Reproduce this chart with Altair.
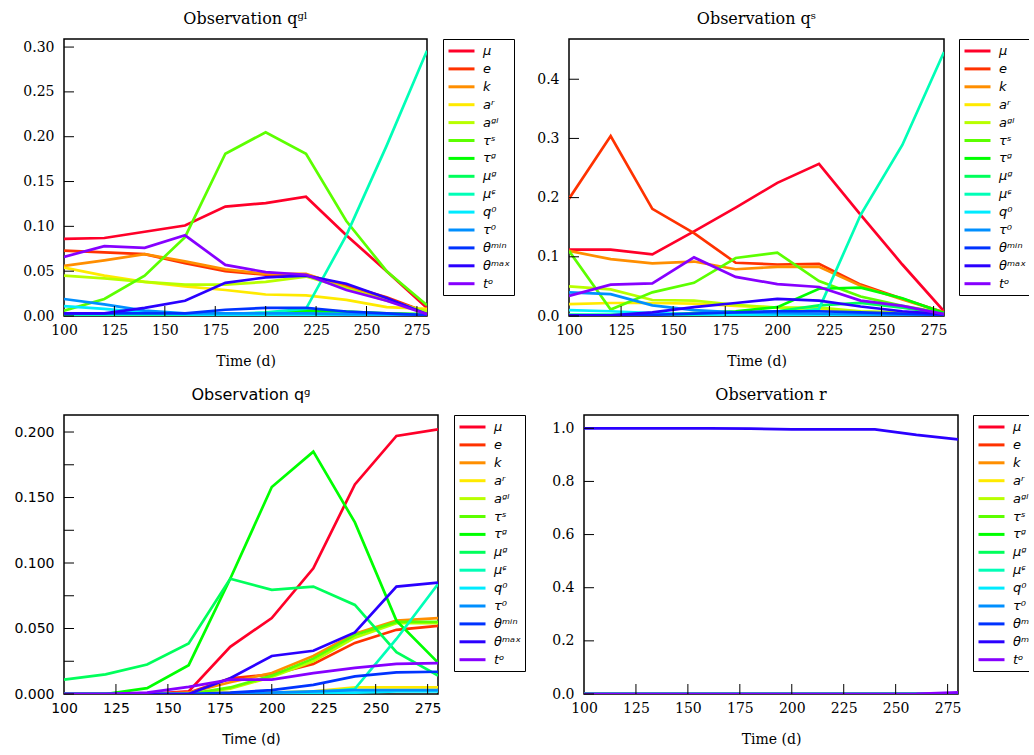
import altair as alt
import pandas as pd

times = [100, 120, 140, 160, 180, 200, 220, 240, 260, 280]
series = ["μ", "e", "k", "aʳ", "aᵍˡ", "τˢ", "τᵍ", "μᵍ", "μᶝ", "q⁰", "τ⁰", "θᵐⁱⁿ", "θᵐᵃˣ", "tᵒ"]
colors = ["#ff0029", "#ff3200", "#ff8e00", "#ffea00", "#b8ff00", "#5cff00", "#00ff00",
          "#00ff5b", "#00ffb7", "#00ebff", "#008fff", "#0033ff", "#2a00ff", "#8600ff"]
x_ticks = [100, 125, 150, 175, 200, 225, 250, 275]

# Observation q^gl
qgl_mu    = [0.086, 0.087, 0.094, 0.101, 0.122, 0.126, 0.133, 0.090, 0.050, 0.009]
qgl_e     = [0.073, 0.071, 0.069, 0.059, 0.050, 0.046, 0.046, 0.034, 0.021, 0.004]
qgl_k     = [0.056, 0.062, 0.069, 0.061, 0.052, 0.047, 0.047, 0.032, 0.019, 0.004]
qgl_ar    = [0.054, 0.045, 0.038, 0.033, 0.029, 0.024, 0.023, 0.018, 0.010, 0.008]
qgl_agl   = [0.045, 0.042, 0.038, 0.035, 0.035, 0.038, 0.044, 0.031, 0.017, 0.005]
qgl_taus  = [0.006, 0.019, 0.045, 0.088, 0.181, 0.205, 0.181, 0.106, 0.050, 0.012]
qgl_taug  = [0.001, 0.001, 0.001, 0.002, 0.002, 0.003, 0.006, 0.005, 0.003, 0.002]
qgl_mug   = [0.002, 0.002, 0.002, 0.002, 0.002, 0.002, 0.003, 0.003, 0.002, 0.001]
qgl_mus   = [0.001, 0.001, 0.001, 0.001, 0.002, 0.004, 0.008, 0.090, 0.190, 0.296]
qgl_q0    = [0.011, 0.008, 0.004, 0.002, 0.001, 0.001, 0.001, 0.001, 0.001, 0.001]
qgl_tau0  = [0.019, 0.013, 0.006, 0.003, 0.003, 0.003, 0.003, 0.002, 0.002, 0.001]
qgl_thmin = [0.003, 0.003, 0.003, 0.003, 0.007, 0.009, 0.009, 0.005, 0.003, 0.001]
qgl_thmax = [0.003, 0.003, 0.009, 0.017, 0.037, 0.043, 0.045, 0.036, 0.020, 0.002]
qgl_to    = [0.066, 0.078, 0.076, 0.090, 0.057, 0.049, 0.046, 0.029, 0.017, 0.002]

# Observation q^s
qs_mu    = [0.112, 0.112, 0.104, 0.143, 0.183, 0.225, 0.257, 0.171, 0.087, 0.008]
qs_e     = [0.198, 0.304, 0.181, 0.140, 0.090, 0.087, 0.088, 0.053, 0.029, 0.006]
qs_k     = [0.110, 0.096, 0.089, 0.092, 0.079, 0.083, 0.083, 0.051, 0.028, 0.006]
qs_ar    = [0.020, 0.022, 0.022, 0.021, 0.017, 0.014, 0.011, 0.007, 0.005, 0.003]
qs_agl   = [0.050, 0.045, 0.027, 0.026, 0.019, 0.014, 0.014, 0.008, 0.006, 0.003]
qs_taus  = [0.110, 0.011, 0.040, 0.056, 0.098, 0.107, 0.059, 0.033, 0.017, 0.005]
qs_taug  = [0.001, 0.001, 0.002, 0.005, 0.008, 0.015, 0.046, 0.048, 0.030, 0.005]
qs_mug   = [0.002, 0.002, 0.002, 0.003, 0.005, 0.008, 0.018, 0.022, 0.014, 0.004]
qs_mus   = [0.002, 0.002, 0.002, 0.002, 0.002, 0.003, 0.012, 0.171, 0.289, 0.446]
qs_q0    = [0.010, 0.008, 0.005, 0.003, 0.002, 0.002, 0.002, 0.002, 0.001, 0.001]
qs_tau0  = [0.040, 0.037, 0.018, 0.010, 0.006, 0.005, 0.004, 0.003, 0.002, 0.002]
qs_thmin = [0.001, 0.001, 0.002, 0.004, 0.006, 0.008, 0.008, 0.006, 0.004, 0.002]
qs_thmax = [0.001, 0.001, 0.006, 0.015, 0.022, 0.029, 0.026, 0.016, 0.008, 0.003]
qs_to    = [0.034, 0.053, 0.055, 0.099, 0.066, 0.054, 0.049, 0.026, 0.017, 0.003]

# Observation q^g
qg_mu    = [0.0, 0.0, 0.0, 0.002, 0.036, 0.058, 0.096, 0.160, 0.197, 0.202]
qg_e     = [0.0, 0.0, 0.0, 0.001, 0.012, 0.015, 0.023, 0.039, 0.049, 0.052]
qg_k     = [0.0, 0.0, 0.0, 0.001, 0.009, 0.016, 0.029, 0.046, 0.056, 0.058]
qg_ar    = [0.0, 0.0, 0.0, 0.0, 0.001, 0.001, 0.002, 0.005, 0.005, 0.005]
qg_agl   = [0.0, 0.0, 0.0, 0.0, 0.004, 0.013, 0.025, 0.043, 0.054, 0.054]
qg_taus  = [0.0, 0.0, 0.0, 0.0, 0.005, 0.014, 0.027, 0.045, 0.055, 0.055]
qg_taug  = [0.0, 0.0, 0.0045, 0.022, 0.088, 0.158, 0.185, 0.131, 0.056, 0.024]
qg_mug   = [0.011, 0.015, 0.0225, 0.0385, 0.088, 0.0795, 0.082, 0.068, 0.032, 0.014]
qg_mus   = [0.0, 0.0, 0.0, 0.0, 0.0, 0.0, 0.001, 0.004, 0.042, 0.084]
qg_q0    = [0.0, 0.0, 0.0, 0.0, 0.0, 0.0, 0.001, 0.001, 0.002, 0.002]
qg_tau0  = [0.0, 0.0, 0.0, 0.0, 0.0, 0.001, 0.002, 0.003, 0.003, 0.003]
qg_thmin = [0.0, 0.0, 0.0, 0.0, 0.001, 0.003, 0.007, 0.0135, 0.0165, 0.017]
qg_thmax = [0.0, 0.0, 0.0, 0.0, 0.012, 0.029, 0.033, 0.047, 0.082, 0.085]
qg_to    = [0.0, 0.0, 0.001, 0.0055, 0.011, 0.011, 0.016, 0.020, 0.023, 0.0235]

# Observation r
zeros = [0.0] * 10
r_thmax = [1.0, 1.0, 1.0, 1.0, 0.999, 0.996, 0.996, 0.996, 0.975, 0.958]
r_to    = [0.0, 0.0, 0.0, 0.0, 0.0, 0.0, 0.0, 0.0, 0.001, 0.006]

panels = [
    dict(title="Observation qᵍˡ", vals=[qgl_mu, qgl_e, qgl_k, qgl_ar, qgl_agl, qgl_taus, qgl_taug, qgl_mug,
                                          qgl_mus, qgl_q0, qgl_tau0, qgl_thmin, qgl_thmax, qgl_to],
         ymax=0.309, yticks=[0, 0.05, 0.10, 0.15, 0.20, 0.25, 0.30], fmt=".2f", font="DejaVu Serif",
         w=363, h=277, loff=16),
    dict(title="Observation qˢ", vals=[qs_mu, qs_e, qs_k, qs_ar, qs_agl, qs_taus, qs_taug, qs_mug,
                                         qs_mus, qs_q0, qs_tau0, qs_thmin, qs_thmax, qs_to],
         ymax=0.468, yticks=[0, 0.1, 0.2, 0.3, 0.4], fmt=".1f", font="DejaVu Serif", w=375, h=277, loff=15),
    dict(title="Observation qᵍ", vals=[qg_mu, qg_e, qg_k, qg_ar, qg_agl, qg_taus, qg_taug, qg_mug,
                                         qg_mus, qg_q0, qg_tau0, qg_thmin, qg_thmax, qg_to],
         ymax=0.213, yticks=[0, 0.025, 0.05, 0.075, 0.1, 0.125, 0.15, 0.175, 0.2], fmt=".3f",
         font="DejaVu Sans", w=374, h=279, loff=16),
    dict(title="Observation r", vals=[zeros] * 12 + [r_thmax, r_to],
         ymax=1.05, yticks=[0, 0.2, 0.4, 0.6, 0.8, 1.0], fmt=".1f", font="DejaVu Serif", w=374, h=279, loff=15),
]


def make_panel(p):
    rows = []
    for name, vals in zip(series, p["vals"]):
        for t, v in zip(times, vals):
            rows.append({"Time": t, "Value": v, "Series": name})
    df = pd.DataFrame(rows)
    font = p["font"]
    H = p["h"]
    xenc = alt.X("Time:Q", scale=alt.Scale(domain=[100, 280], nice=False, zero=False),
                 axis=alt.Axis(values=x_ticks, format="d", ticks=False, domain=False, grid=False,
                               labelFont=font, labelFontSize=14, labelColor="black", labelPadding=7,
                               labelFlush=False, labelOverlap=False,
                               title="Time (d)", titleFont=font, titleFontSize=14,
                               titleFontWeight="normal", titleColor="black", titlePadding=17))
    yenc = alt.Y("Value:Q", scale=alt.Scale(domain=[0, p["ymax"]], nice=False, zero=True),
                 axis=alt.Axis(values=p["yticks"], format=p["fmt"], ticks=False, domain=False, grid=False,
                               labelFont=font, labelFontSize=14, labelColor="black", labelPadding=10,
                               labelFlush=False, labelOverlap=False, title=None))
    lines = alt.Chart(df).mark_line(strokeWidth=2.7, clip=True).encode(
        x=xenc, y=yenc,
        color=alt.Color("Series:N", scale=alt.Scale(domain=series, range=colors),
                        legend=alt.Legend(title=None, orient="right", offset=p["loff"], padding=4,
                                          strokeColor="black", fillColor="white", cornerRadius=0,
                                          symbolType="M-1,0H3", symbolSize=169, symbolStrokeWidth=3,
                                          labelFont="DejaVu Sans", labelFontSize=13,
                                          labelFontStyle="italic", labelColor="black",
                                          labelOffset=20, rowPadding=2.9)),
    )
    xt = alt.Chart(pd.DataFrame({"Time": x_ticks[1:]})).mark_rule(color="black", strokeWidth=1).encode(
        x=alt.X("Time:Q"), y=alt.value(H), y2=alt.value(H - 10))
    yt = alt.Chart(pd.DataFrame({"Value": p["yticks"]})).mark_rule(color="black", strokeWidth=1).encode(
        y=alt.Y("Value:Q"), x=alt.value(0), x2=alt.value(10))
    return alt.layer(lines, xt, yt).properties(
        width=p["w"], height=H,
        view=alt.ViewConfig(stroke="black", strokeWidth=1.5),
        title=alt.TitleParams(p["title"], font=font, fontSize=16, fontWeight="normal",
                              color="black", offset=12, anchor="middle"))


ps = [make_panel(p) for p in panels]
row1 = alt.hconcat(ps[0], ps[1], spacing=19).resolve_scale(
    x="independent", y="independent", color="independent").resolve_legend(color="independent")
row2 = alt.hconcat(ps[2], ps[3], spacing=23).resolve_scale(
    x="independent", y="independent", color="independent").resolve_legend(color="independent")
chart = alt.vconcat(row1, row2, spacing=16).resolve_scale(
    x="independent", y="independent", color="independent").resolve_legend(color="independent").properties(
    padding={"left": 13, "top": 9, "right": -17, "bottom": 0}
).configure_view(stroke="black", strokeWidth=1.5).configure(background="white")

chart.save("out.html", embed_options={"renderer": "svg", "actions": False})
